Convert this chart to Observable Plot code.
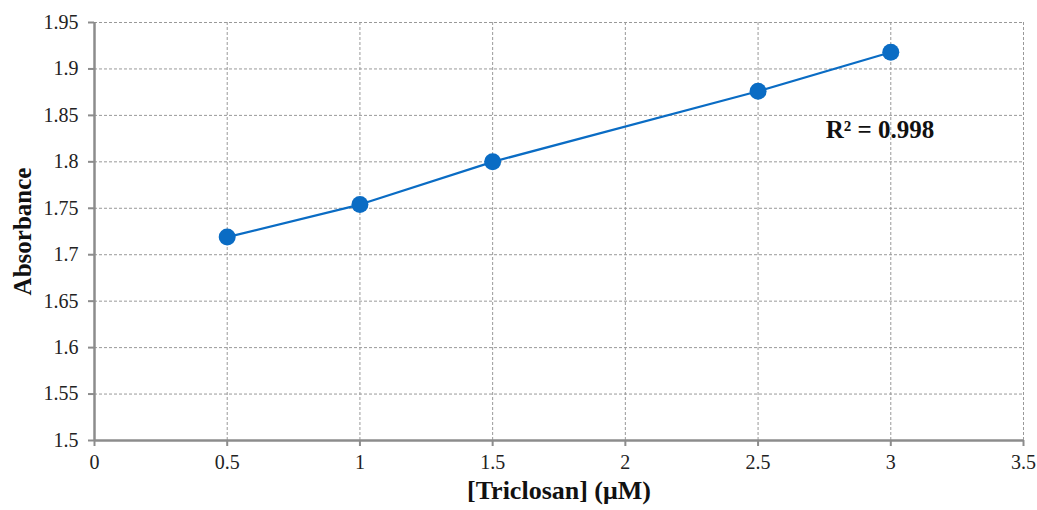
<!DOCTYPE html>
<html>
<head>
<meta charset="utf-8">
<script src="https://cdn.jsdelivr.net/npm/d3@7"></script>
<script src="https://cdn.jsdelivr.net/npm/@observablehq/plot@0.6"></script>
<style>
  html, body { margin: 0; padding: 0; background: #fff; }
  #chart svg { display: block; }
</style>
</head>
<body>
<div id="chart"></div>
<script>
const concentrations = [0.5, 1, 1.5, 2.5, 3];
const absorbance = [1.719, 1.754, 1.800, 1.876, 1.918];
const xTicks = [0, 0.5, 1, 1.5, 2, 2.5, 3, 3.5];
const yTicks = [1.5, 1.55, 1.6, 1.65, 1.7, 1.75, 1.8, 1.85, 1.9, 1.95];
const xLabel = "[Triclosan] (μM)";
const yLabel = "Absorbance";
const annotation = "R² = 0.998";
const annotationPos = [2.755, 1.834];

const data = concentrations.map((c, i) => ({x: c, y: absorbance[i]}));
const blue = "#0A6CC4";
const gray = "#8c8c8c";

const chart = Plot.plot({
  width: 1037,
  height: 510,
  marginLeft: 94,
  marginRight: 14,
  marginTop: 22,
  marginBottom: 70,
  style: {fontFamily: "'Liberation Serif', 'Times New Roman', serif", fontSize: "20px", color: "#222", background: "#fff"},
  x: {domain: [0, 3.5]},
  y: {domain: [1.5, 1.95]},
  marks: [
    Plot.gridX(xTicks.slice(1), {stroke: "#999", strokeOpacity: 1, strokeWidth: 1, strokeDasharray: "3,2"}),
    Plot.gridY(yTicks.slice(1), {stroke: "#999", strokeOpacity: 1, strokeWidth: 1, strokeDasharray: "3,2"}),
    Plot.ruleX([0], {stroke: gray, strokeWidth: 2.5}),
    Plot.ruleY([1.5], {stroke: gray, strokeWidth: 2.5}),
    Plot.axisX(xTicks, {tickSize: 6, tickPadding: 8, stroke: gray, strokeWidth: 2, fill: "#222", fontSize: 20, tickFormat: d => String(d), label: null}),
    Plot.axisY(yTicks, {tickSize: 6, tickPadding: 10, stroke: gray, strokeWidth: 2, fill: "#222", fontSize: 20, tickFormat: d => String(d), label: null}),
    Plot.line(data, {x: "x", y: "y", stroke: blue, strokeWidth: 2.2}),
    Plot.dot(data, {x: "x", y: "y", r: 8.5, fill: blue, stroke: "none"}),
    Plot.text([annotation], {x: annotationPos[0], y: annotationPos[1], text: d => d, textAnchor: "start", fontSize: 25, fontWeight: "bold", fill: "#111"}),
    Plot.text([xLabel], {frameAnchor: "bottom", dy: 58, text: d => d, textAnchor: "middle", fontSize: 26, fontWeight: "bold", fill: "#111"}),
    Plot.text([yLabel], {frameAnchor: "left", dx: -72, rotate: -90, text: d => d, textAnchor: "middle", fontSize: 25, fontWeight: "bold", fill: "#111"})
  ]
});
document.getElementById("chart").append(chart);
</script>
</body>
</html>
